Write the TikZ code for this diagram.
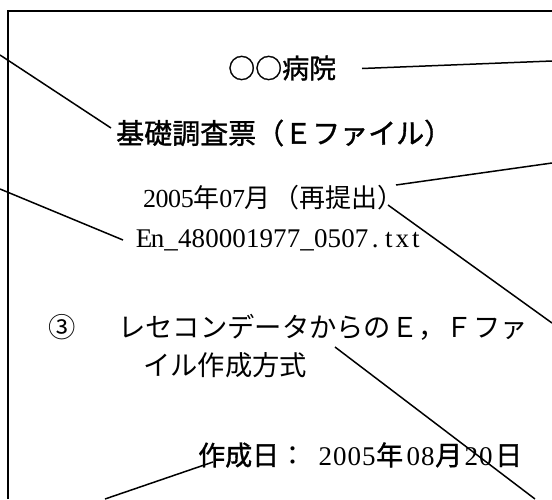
\documentclass[tikz,border=0pt]{standalone}
\usepackage{fontspec}
\setmainfont{Liberation Serif}
\newfontfamily\jpm{Noto Sans CJK JP}
\newfontfamily\jpg[FakeBold=1.2]{Noto Sans CJK JP}
\newlength\hwlen
\setlength\hwlen{13.5pt}
\newcommand\hwbox[1]{\makebox[\hwlen]{\rmfamily #1}}
\def\hw#1{\hwloop#1\relax}
\def\hwloop#1{\ifx#1\relax\else\hwbox{#1}\expandafter\hwloop\fi}
\newcommand\fs[1]{\fontsize{#1}{#1}\selectfont}
\begin{document}
\begin{tikzpicture}[x=1pt,y=-1pt,
  every node/.style={inner sep=0pt, anchor=west, font=\fs{27}},
  frame/.style={line width=2pt},
  callout/.style={line width=1.5pt}]
\useasboundingbox (0,0) rectangle (552,499);
\draw[frame] (7.5,499) -- (7.5,11) -- (552,11);
\node (hosp) at (228,68) {\fs{27}\jpg ○○病院};
\node (title) at (116,133) {\fs{28}\jpg 基礎調査票（Ｅファイル）};
\node (date) at (143,198) {\fs{26}\setlength\hwlen{12.6pt}\jpm\hw{2005}年\hw{07}月\hspace{3pt}（再提出）};
\node (file) at (137,240) {\setlength\hwlen{13.6pt}\hw{En\_480001977\_0507.txt}};
\node (num) at (48,327) {\fs{27.3}\jpm ③};
\node (meth1) at (118,327) {\fs{27.3}\jpm レセコンデータからのＥ，Ｆファ};
\node (meth2) at (143,365) {\fs{27.3}\jpm イル作成方式};
\node (made) at (198,455) {\setlength\hwlen{14.5pt}\jpg 作成日{\jpm ：}\hspace{12pt}\hw{2005}年\hspace{3pt}\hw{08}月\hspace{2pt}\hw{20}\hspace{2pt}日};
\coordinate (c1a) at (362,68.5); \coordinate (c1b) at (552,61);
\coordinate (c2a) at (0,55);     \coordinate (c2b) at (111,128);
\coordinate (c3a) at (0,189);    \coordinate (c3b) at (123,240);
\coordinate (c4a) at (396,185);  \coordinate (c4b) at (552,163);
\coordinate (c5a) at (388,205);  \coordinate (c5b) at (552,323);
\coordinate (c6a) at (335,347);  \coordinate (c6b) at (535,499);
\coordinate (c7a) at (105,499);  \coordinate (c7b) at (213,462);
\draw[callout] (c1a) -- (c1b);
\draw[callout] (c2a) -- (c2b);
\draw[callout] (c3a) -- (c3b);
\draw[callout] (c4a) -- (c4b);
\draw[callout] (c5a) -- (c5b);
\draw[callout] (c6a) -- (c6b);
\draw[callout] (c7a) -- (c7b);
\end{tikzpicture}
\end{document}
